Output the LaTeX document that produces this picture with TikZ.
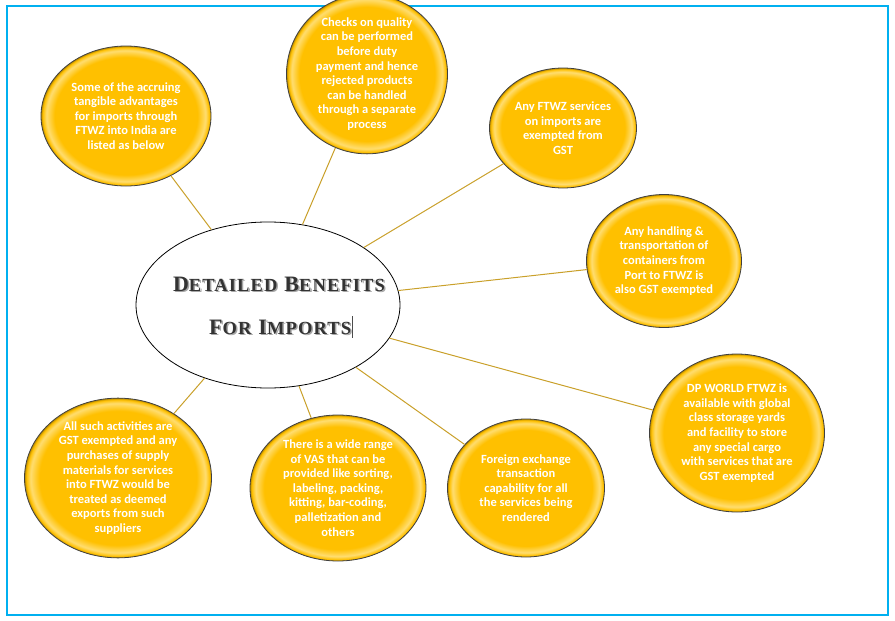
\documentclass[tikz,border=0pt]{standalone}
\usepackage{fontspec}
\setmainfont{Carlito}
\newfontfamily\titlefont[LetterSpace=6]{Liberation Serif}
\usetikzlibrary{shapes.geometric}
\definecolor{frameblue}{HTML}{00B0F0}
\definecolor{cgold}{HTML}{FFC000}
\definecolor{cgoldlight}{HTML}{FFDD70}
\definecolor{cgolddark}{HTML}{B88A00}
\definecolor{linkgold}{HTML}{C9A02A}
\pgfdeclareradialshading{goldball}{\pgfpoint{0bp}{0bp}}{color(0bp)=(cgold); color(21bp)=(cgold); color(23.4bp)=(cgoldlight); color(24.5bp)=(cgold); color(25bp)=(cgolddark); color(50bp)=(cgolddark)}
\newcommand{\BigL}[1]{{\fontsize{22}{22}\selectfont #1}}
\newcommand{\SmL}[1]{{\fontsize{18.5}{18.5}\selectfont #1}}
\newcommand{\TitleA}{\BigL{D}\SmL{ETAILED}\hspace{7pt}\BigL{B}\SmL{ENEFITS}}
\newcommand{\TitleB}{\BigL{F}\SmL{OR}\hspace{7pt}\BigL{I}\SmL{MPORTS}}
\tikzset{
  bubble/.style={ellipse, shading=goldball, draw=black!75, line width=0.8pt, inner sep=0pt,
    text=white, font=\bfseries\fontsize{12.5}{14.6}\selectfont, align=center},
  link/.style={draw=linkgold, line width=1pt},
  ttl/.style={font=\titlefont\bfseries, inner sep=0pt},
}
\begin{document}
\begin{tikzpicture}[x=1pt,y=-1pt]
\useasboundingbox (0,0) rectangle (895,621);
\draw[frameblue, line width=1.6pt] (7,6) rectangle (888,615);

\node[ellipse, draw=black, line width=0.8pt, minimum width=264pt, minimum height=166pt, inner sep=0pt, fill=white] (c) at (268,305) {};
\node[ttl, text=black!35] (s1) at (280.5,285.5) {\TitleA};
\node[ttl, text=black!80] (t1) at (279,284) {\TitleA};
\node[ttl, text=black!35, anchor=west] (s2) at (210.5,328.5) {\TitleB};
\node[ttl, text=black!80, anchor=west] (t2) at (209,327) {\TitleB};
\draw[black!70, line width=0.8pt] (t2.east) ++(1,-11) -- ++(0,22);

\node[bubble, minimum width=170pt, minimum height=140pt] (b1) at (126,116) {Some of the accruing\\tangible advantages\\for imports through\\FTWZ into India are\\listed as below};
\node[bubble, minimum width=161pt, minimum height=131pt] (b2) at (367,74) {Checks on quality\\can be performed\\before duty\\payment and hence\\rejected products\\can be handled\\through a separate\\process};
\node[bubble, minimum width=147pt, minimum height=120pt] (b3) at (563,128) {Any FTWZ services\\on imports are\\exempted from\\GST};
\node[bubble, minimum width=155pt, minimum height=133pt] (b4) at (664,261) {Any handling \&\\transportation of\\containers from\\Port to FTWZ is\\also GST exempted};
\node[bubble, minimum width=175pt, minimum height=158pt] (b5) at (737,433) {DP WORLD FTWZ is\\available with global\\class storage yards\\and facility to store\\any special cargo\\with services that are\\GST exempted};
\node[bubble, minimum width=157pt, minimum height=138pt] (b6) at (526,488) {Foreign exchange\\transaction\\capability for all\\the services being\\rendered};
\node[bubble, minimum width=176pt, minimum height=146pt] (b7) at (338,488) {There is a wide range\\of VAS that can be\\provided like sorting,\\labeling, packing,\\kitting, bar-coding,\\palletization and\\others};
\node[bubble, minimum width=187pt, minimum height=156pt] (b8) at (118,478) {All such activities are\\GST exempted and any\\purchases of supply\\materials for services\\into FTWZ would be\\treated as deemed\\exports from such\\suppliers};

\foreach \b in {b1,b2,b3,b4,b5,b6,b7,b8}
  \draw[link] (c) -- (\b);
\end{tikzpicture}
\end{document}
